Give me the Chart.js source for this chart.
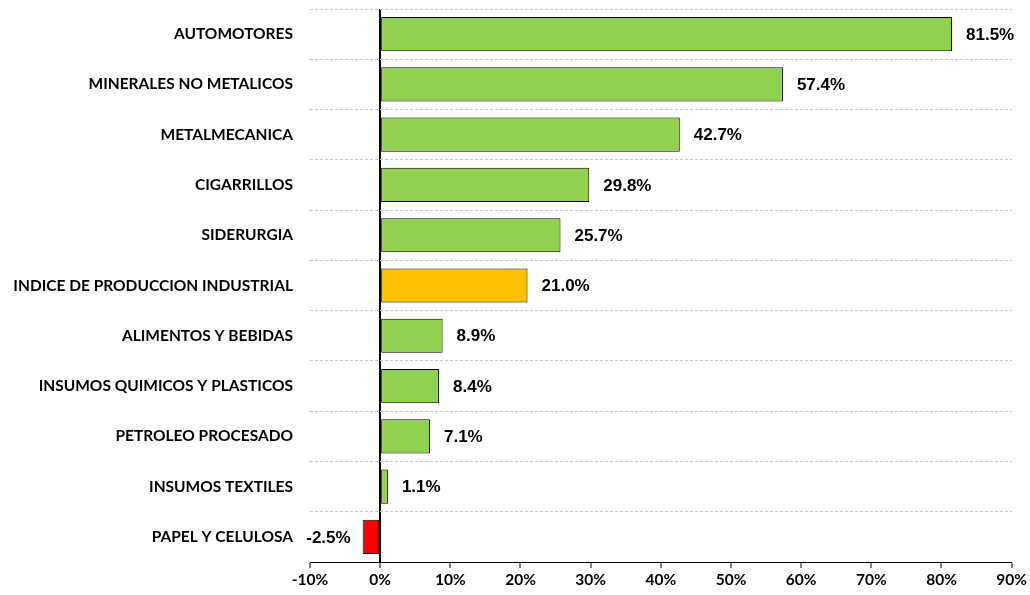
<!DOCTYPE html>
<html>
<head>
<meta charset="utf-8">
<script src="https://cdn.jsdelivr.net/npm/chart.js@4.4.0/dist/chart.umd.min.js"></script>
<style>
  html, body { margin: 0; padding: 0; background: #fff; }
  #wrap { width: 1030px; height: 595px; }
</style>
</head>
<body>
<div id="wrap"><canvas id="chart" width="1030" height="595"></canvas></div>
<script>
// sectores y variacion (%)
const sectors = [
  "AUTOMOTORES",
  "MINERALES NO METALICOS",
  "METALMECANICA",
  "CIGARRILLOS",
  "SIDERURGIA",
  "INDICE DE PRODUCCION INDUSTRIAL",
  "ALIMENTOS Y BEBIDAS",
  "INSUMOS QUIMICOS Y PLASTICOS",
  "PETROLEO PROCESADO",
  "INSUMOS TEXTILES",
  "PAPEL Y CELULOSA"
];
const changes = [81.5, 57.4, 42.7, 29.8, 25.7, 21.0, 8.9, 8.4, 7.1, 1.1, -2.5];
const xTicks = [-10, 0, 10, 20, 30, 40, 50, 60, 70, 80, 90];

// color por barra: indice general en naranja, negativos en rojo
const barColors = sectors.map((s, i) => {
  if (s === "INDICE DE PRODUCCION INDUSTRIAL") return "#FFC000";
  if (changes[i] < 0) return "#FF0000";
  return "#92D050";
});

// etiquetas de valor al final de cada barra
const valueLabels = {
  id: "valueLabels",
  afterDatasetsDraw(chart) {
    const ctx = chart.ctx;
    const meta = chart.getDatasetMeta(0);
    ctx.save();
    ctx.font = "bold 17px 'Liberation Sans', Arial, sans-serif";
    ctx.fillStyle = "#000";
    ctx.textBaseline = "middle";
    meta.data.forEach((bar, i) => {
      const v = changes[i];
      const txt = v.toFixed(1) + "%";
      if (v >= 0) {
        ctx.textAlign = "left";
        ctx.fillText(txt, bar.x + 14, bar.y + 1);
      } else {
        ctx.textAlign = "right";
        ctx.fillText(txt, bar.x - 12, bar.y + 1);
      }
    });
    ctx.restore();
  }
};

const labelFont = { family: "Lato, 'Open Sans', sans-serif", weight: "bold", size: 15.5 };

new Chart(document.getElementById("chart"), {
  type: "bar",
  plugins: [valueLabels],
  data: {
    labels: sectors,
    datasets: [{
      data: changes,
      backgroundColor: barColors,
      borderColor: "#000",
      borderWidth: 1,
      borderSkipped: false,
      barPercentage: 0.68,
      categoryPercentage: 1.0
    }]
  },
  options: {
    indexAxis: "y",
    responsive: false,
    animation: false,
    layout: { padding: { top: 9, right: 17, bottom: 0, left: 0 } },
    plugins: {
      legend: { display: false },
      tooltip: { enabled: false }
    },
    scales: {
      x: {
        min: -10,
        max: 90,
        afterBuildTicks: (scale) => { scale.ticks = xTicks.map(v => ({ value: v })); },
        afterFit: (scale) => { scale.height = 33; },
        border: { display: true, color: "#000", width: 1 },
        grid: {
          color: (c) => (c.tick && c.tick.value === 0 ? "#000" : "rgba(0,0,0,0)"),
          lineWidth: (c) => (c.tick && c.tick.value === 0 ? 2 : 0),
          tickColor: "#000",
          tickWidth: 1,
          tickLength: 6,
          drawOnChartArea: true
        },
        ticks: {
          color: "#000",
          font: labelFont,
          padding: 3,
          maxRotation: 0,
          callback: (v) => v + "%"
        }
      },
      y: {
        afterFit: (scale) => {
          scale.width = 310;
          scale.paddingTop = 0;
          scale.paddingBottom = 0;
        },
        border: { display: false },
        grid: {
          offset: true,
          color: "#C8C8C8",
          lineWidth: 1,
          drawTicks: false
        },
        border: { display: false, dash: [3, 2] },
        ticks: {
          color: "#000",
          font: labelFont,
          padding: 17
        }
      }
    }
  }
});
</script>
</body>
</html>
